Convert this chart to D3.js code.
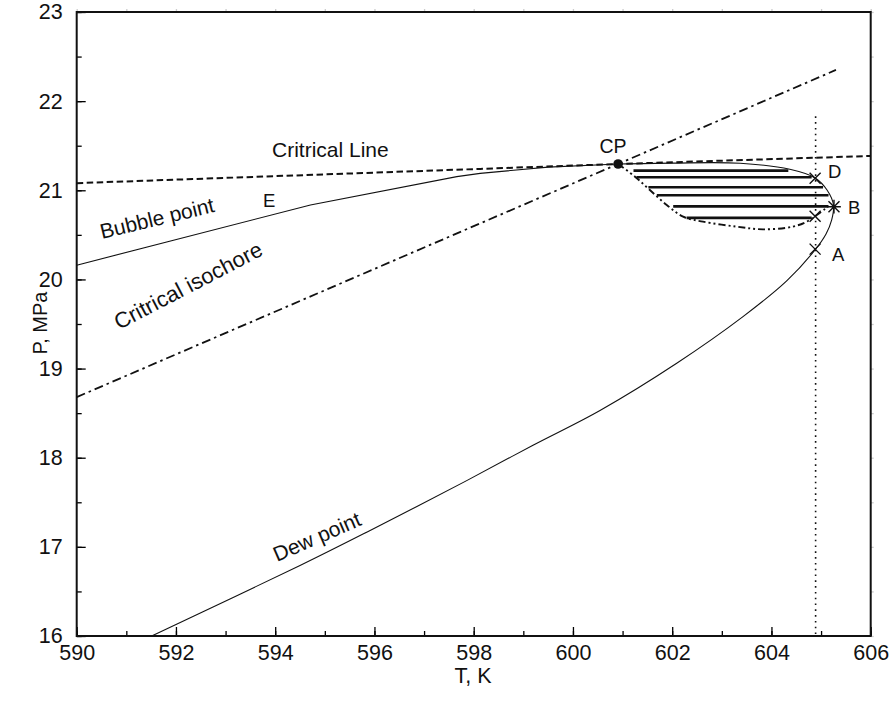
<!DOCTYPE html>
<html>
<head>
<meta charset="utf-8">
<script src="https://cdn.jsdelivr.net/npm/d3@7"></script>
<style>
  html, body { margin: 0; padding: 0; background: #fff; }
  svg text { font-family: "Liberation Sans", Arial, Helvetica, sans-serif; fill: #111; }
</style>
</head>
<body>
<svg id="chart" width="892" height="702"></svg>
<script>
// Phase envelope near the critical point (T in K, P in MPa)
const xTicks = [590, 592, 594, 596, 598, 600, 602, 604, 606];
const yTicks = [16, 17, 18, 19, 20, 21, 22, 23];

const criticalPoint = [600.91, 21.295];

const bubbleCurve = [
  [590.0, 20.16], [594.71, 20.835], [597.66, 21.153], [598.13, 21.19],
  [599.5, 21.26], [600.91, 21.295]
];

const dewCurve = [
  [600.91, 21.295], [602.0, 21.305], [603.37, 21.303], [604.37, 21.235],
  [604.88, 21.138], [605.12, 21.003], [605.25, 20.835], [605.214, 20.667],
  [605.10, 20.51], [604.878, 20.331], [604.307, 19.983], [603.427, 19.583],
  [602.091, 19.060], [600.545, 18.530], [599.195, 18.140], [597.859, 17.743],
  [595.844, 17.165], [594.500, 16.791], [591.511, 16.0]
];

const criticalLine = [
  [590.0, 21.08], [598.13, 21.24], [600.91, 21.295], [606.0, 21.385]
];

const criticalIsochore = [
  [590.0, 18.68], [600.91, 21.295], [605.3, 22.35]
];

// lower edge of the retrograde region
const retrogradeEdge = [
  [600.91, 21.295], [601.25, 21.153], [601.55, 21.003], [601.89, 20.835],
  [602.22, 20.704], [602.62, 20.648], [603.30, 20.592], [603.83, 20.562],
  [604.43, 20.592], [604.71, 20.648], [604.88, 20.71], [605.08, 20.79]
];

// hatch lines: [P, T start, T end]
const hatchLines = [
  [21.22, 601.22, 604.34],
  [21.146, 601.28, 604.81],
  [21.034, 601.52, 605.04],
  [20.944, 601.69, 605.15],
  [20.82, 602.02, 605.15],
  [20.69, 602.29, 604.81]
];

const isothermT = 604.89;
const isothermTop = 21.83;

const crossMarks = [
  { name: "D", t: 604.88, p: 21.135 },
  { name: "", t: 604.88, p: 20.71 },
  { name: "A", t: 604.88, p: 20.34 }
];
const starMark = { name: "B", t: 605.26, p: 20.816 };

const svg = d3.select("#chart");
const margin = { left: 76.7, right: 892 - 870.7, top: 12, bottom: 702 - 636 };
const W = 892 - margin.left - margin.right;
const H = 702 - margin.top - margin.bottom;

const x = d3.scaleLinear().domain([590, 606]).range([0, W]);
const y = d3.scaleLinear().domain([16, 23]).range([H, 0]);

const g = svg.append("g").attr("transform", `translate(${margin.left},${margin.top})`);

g.append("clipPath").attr("id", "plotClip")
  .append("rect").attr("width", W).attr("height", H);

const line = d3.line().x(d => x(d[0])).y(d => y(d[1]));
const smooth = d3.line().x(d => x(d[0])).y(d => y(d[1])).curve(d3.curveCatmullRom.alpha(0.5));

const plot = g.append("g").attr("clip-path", "url(#plotClip)");

// critical line (dashed)
plot.append("path").datum(criticalLine).attr("d", line)
  .attr("fill", "none").attr("stroke", "#111").attr("stroke-width", 2)
  .attr("stroke-dasharray", "6.5,3.5");

// critical isochore (dash-dot)
plot.append("path").datum(criticalIsochore).attr("d", line)
  .attr("fill", "none").attr("stroke", "#111").attr("stroke-width", 1.8)
  .attr("stroke-dasharray", "9,4,2.5,4");

// bubble-point curve
plot.append("path").datum(bubbleCurve).attr("d", line)
  .attr("fill", "none").attr("stroke", "#111").attr("stroke-width", 1.1);

// dew-point curve
plot.append("path").datum(dewCurve).attr("d", smooth)
  .attr("fill", "none").attr("stroke", "#111").attr("stroke-width", 1.1);

// lower edge of retrograde region (dash-dot-dot)
plot.append("path").datum(retrogradeEdge).attr("d", smooth)
  .attr("fill", "none").attr("stroke", "#111").attr("stroke-width", 1.9)
  .attr("stroke-dasharray", "7,3,2,3,2,3");

// hatching
plot.selectAll("line.hatch").data(hatchLines).join("line")
  .attr("class", "hatch")
  .attr("x1", d => x(d[1])).attr("x2", d => x(d[2]))
  .attr("y1", d => y(d[0])).attr("y2", d => y(d[0]))
  .attr("stroke", "#111").attr("stroke-width", 2.6);

// isotherm (dotted)
plot.append("line")
  .attr("x1", x(isothermT)).attr("x2", x(isothermT))
  .attr("y1", y(isothermTop)).attr("y2", y(16))
  .attr("stroke", "#111").attr("stroke-width", 1.6)
  .attr("stroke-dasharray", "1.6,4.2");

// crosses
const cs = 5.5;
crossMarks.forEach(m => {
  const cx = x(m.t), cy = y(m.p);
  g.append("path")
    .attr("d", `M${cx - cs},${cy - cs}L${cx + cs},${cy + cs}M${cx - cs},${cy + cs}L${cx + cs},${cy - cs}`)
    .attr("stroke", "#111").attr("stroke-width", 1.4).attr("fill", "none");
});

// asterisk
{
  const cx = x(starMark.t), cy = y(starMark.p), s = 5.5;
  g.append("path")
    .attr("d", `M${cx - s},${cy - s}L${cx + s},${cy + s}M${cx - s},${cy + s}L${cx + s},${cy - s}M${cx},${cy - s * 1.25}L${cx},${cy + s * 1.25}M${cx - s * 1.25},${cy}L${cx + s * 1.25},${cy}`)
    .attr("stroke", "#111").attr("stroke-width", 1.4).attr("fill", "none");
}

// critical point
g.append("circle").attr("cx", x(criticalPoint[0])).attr("cy", y(criticalPoint[1]))
  .attr("r", 4.8).attr("fill", "#111");

// axes: ticks inside the frame
const xMinor = d3.range(590, 606.01, 1);
const yMinor = d3.range(16, 23.01, 0.5);
const tickFont = 21.5;

g.append("g").attr("transform", `translate(0,${H})`)
  .call(d3.axisBottom(x).tickValues(xMinor).tickSize(-5).tickFormat(""))
  .call(a => a.select(".domain").remove());
g.append("g").attr("transform", `translate(0,${H})`)
  .call(d3.axisBottom(x).tickValues(xTicks).tickSize(-9).tickPadding(9).tickFormat(d3.format("d")))
  .call(a => a.select(".domain").remove())
  .call(a => a.selectAll("text").attr("font-size", tickFont).attr("fill", "#111"));

g.append("g")
  .call(d3.axisLeft(y).tickValues(yMinor).tickSize(-5).tickFormat(""))
  .call(a => a.select(".domain").remove());
g.append("g")
  .call(d3.axisLeft(y).tickValues(yTicks).tickSize(-9).tickPadding(14).tickFormat(d3.format("d")))
  .call(a => a.select(".domain").remove())
  .call(a => a.selectAll("text").attr("font-size", tickFont).attr("fill", "#111"));

// faint outer ticks on top and right
g.append("g")
  .call(d3.axisTop(x).tickValues(xMinor).tickSize(3).tickFormat(""))
  .call(a => a.select(".domain").remove())
  .call(a => a.selectAll("line").attr("stroke", "#ccc"));
g.append("g").attr("transform", `translate(${W},0)`)
  .call(d3.axisRight(y).tickValues(yMinor).tickSize(3).tickFormat(""))
  .call(a => a.select(".domain").remove())
  .call(a => a.selectAll("line").attr("stroke", "#ccc"));

g.selectAll(".tick line").attr("stroke-width", 1.3);

// frame
g.append("rect").attr("width", W).attr("height", H)
  .attr("fill", "none").attr("stroke", "#111").attr("stroke-width", 2);

// axis titles
svg.append("text").attr("x", 473).attr("y", 683).attr("text-anchor", "middle")
  .attr("font-size", 21.5).text("T, K");
svg.append("text").attr("transform", "translate(47,323) rotate(-90)")
  .attr("text-anchor", "middle").attr("font-size", 20).text("P, MPa");

// annotations
const ann = (txt, px, py, rot, anchor, size) => {
  svg.append("text")
    .attr("transform", `translate(${px},${py}) rotate(${rot})`)
    .attr("text-anchor", anchor || "start")
    .attr("font-size", size || 21)
    .text(txt);
};
ann("Critrical Line", 272, 157, 0);
ann("CP", 613, 153, 0, "middle", 19.5);
ann("D", 828, 178, 0, "start", 18.5);
ann("B", 848, 214, 0, "start", 18.5);
ann("A", 832, 261, 0, "start", 18.5);
ann("E", 263, 207, 0, "start", 18.5);
ann("Bubble point", 102, 239, -13.5);
ann("Critrical isochore", 119, 330, -27.5, "start", 22);
ann("Dew point", 277, 562, -23.5);
</script>
</body>
</html>
